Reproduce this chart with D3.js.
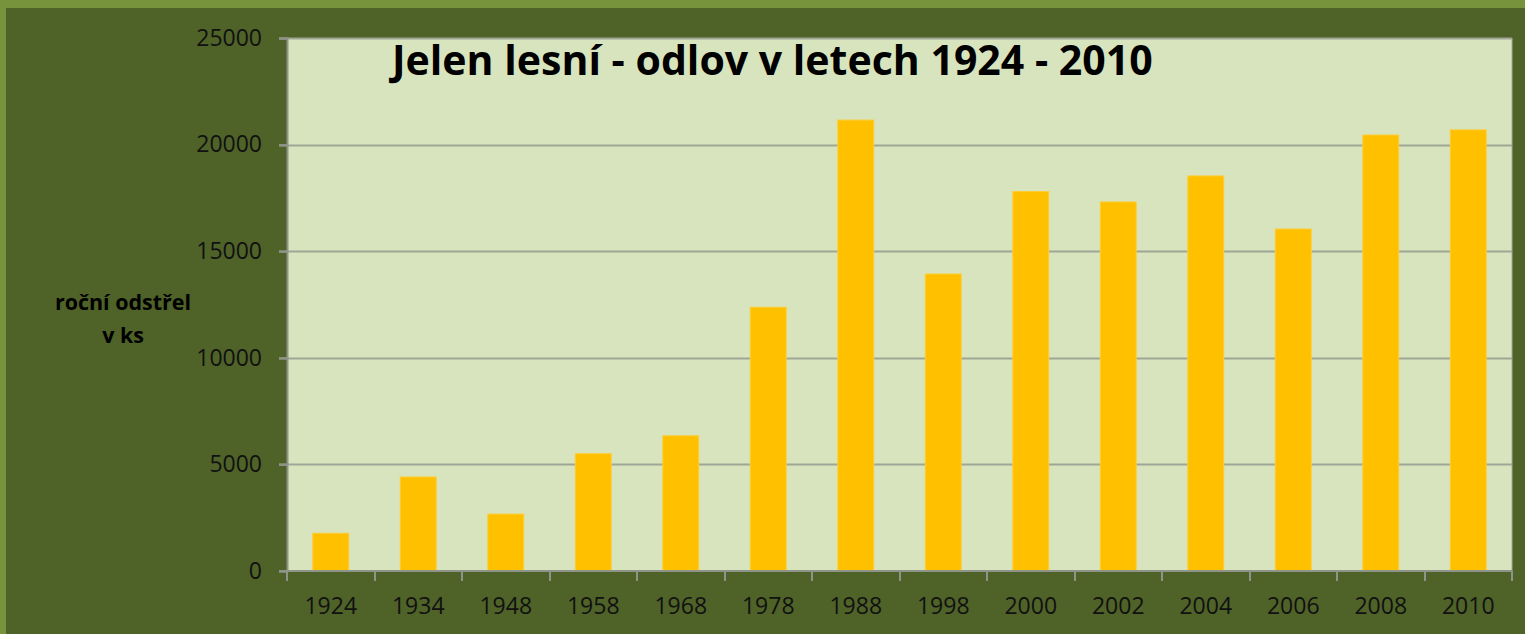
<!DOCTYPE html>
<html><head><meta charset="utf-8">
<script src="https://cdn.jsdelivr.net/npm/d3@7"></script>
<style>html,body{margin:0;padding:0;background:#4f6228;}svg{display:block;}</style>
</head><body>
<svg id="c" width="1525" height="634"></svg>
<script>
const years = ["1924","1934","1948","1958","1968","1978","1988","1998","2000","2002","2004","2006","2008","2010"];
const harvest = [1770,4410,2670,5500,6340,12370,21150,13930,17800,17310,18530,16040,20450,20690];
const yTicks = [0,5000,10000,15000,20000,25000];
const titleText = "Jelen lesní - odlov v letech 1924 - 2010";
const yLabelLines = ["roční odstřel","v ks"];

const svg = d3.select("#c");
const W = 1525, H = 634;
svg.append("rect").attr("width",W).attr("height",H).attr("fill","#77933c");
svg.append("rect").attr("x",6).attr("y",8).attr("width",W-6).attr("height",H-8).attr("fill","#4f6228");

const m = {l:287, r:1512, t:38, b:571};
const x = d3.scaleBand().domain(years).range([m.l,m.r]).paddingInner(0.59).paddingOuter(0.295);
const y = d3.scaleLinear().domain([0,25000]).range([m.b,m.t]);

svg.append("rect").attr("x",m.l).attr("y",m.t).attr("width",m.r-m.l).attr("height",m.b-m.t).attr("fill","#d7e4bd");
svg.append("line").attr("x1",m.r).attr("x2",m.r).attr("y1",m.t).attr("y2",m.b).attr("stroke","#a5ab98").attr("stroke-width",1);

// gridlines
svg.append("g").selectAll("line").data(yTicks.filter(d=>d>0)).join("line")
  .attr("x1",m.l-8).attr("x2",m.r).attr("y1",d=>Math.round(y(d))+0.5).attr("y2",d=>Math.round(y(d))+0.5)
  .attr("stroke","#a0a596").attr("stroke-width",2);

// bars
svg.append("g").selectAll("rect").data(harvest).join("rect")
  .attr("x",(d,i)=>x(years[i])).attr("width",x.bandwidth())
  .attr("y",d=>y(d)).attr("height",d=>y(0)-y(d))
  .attr("fill","#ffc000").attr("stroke","#ffcc33").attr("stroke-width",1);

// y axis
const yAxis = d3.axisLeft(y).tickValues(yTicks).tickSize(8).tickPadding(17).tickFormat(d3.format("d"));
const gy = svg.append("g").attr("transform",`translate(${m.l},0)`).call(yAxis);
gy.select(".domain").attr("stroke","#8f948a").attr("stroke-width",2);
gy.selectAll(".tick line").attr("stroke","#8f948a").attr("stroke-width",2);
gy.selectAll(".tick text").attr("font-family","Open Sans").attr("font-size",23).attr("fill","#111");

// x axis
const gx = svg.append("g").attr("transform",`translate(0,${m.b})`);
gx.append("line").attr("x1",m.l-8).attr("x2",m.r).attr("y1",0).attr("y2",0).attr("stroke","#8f948a").attr("stroke-width",2);
const bounds = years.map(d=>x(d)-x.step()*x.paddingInner()/2).concat([m.r]);
gx.selectAll("line.t").data(bounds).join("line").attr("class","t")
  .attr("x1",d=>Math.round(d)).attr("x2",d=>Math.round(d)).attr("y1",0).attr("y2",10)
  .attr("stroke","#8f948a").attr("stroke-width",2);
gx.selectAll("text").data(years).join("text")
  .attr("x",d=>x(d)+x.bandwidth()/2).attr("y",43).attr("text-anchor","middle")
  .attr("font-family","Open Sans").attr("font-size",23).attr("fill","#111").text(d=>d);

// title
const t = svg.append("text").attr("x",392).attr("y",75).attr("font-family","Open Sans").attr("font-weight","bold")
  .attr("font-size",36).attr("fill","#000").text(titleText);
const tw = t.node().getComputedTextLength();
t.attr("font-size",36*761/tw);

// y label
const yl = svg.append("g");
yLabelLines.forEach((s,i)=>{
  yl.append("text").attr("x",123).attr("y",310+i*33).attr("text-anchor","middle")
    .attr("font-family","Open Sans").attr("font-weight","bold").attr("font-size",18).attr("fill","#000").text(s);
});
const l0 = yl.select("text").node().getComputedTextLength();
yl.selectAll("text").attr("font-size",18*136/l0);
</script>
</body></html>
